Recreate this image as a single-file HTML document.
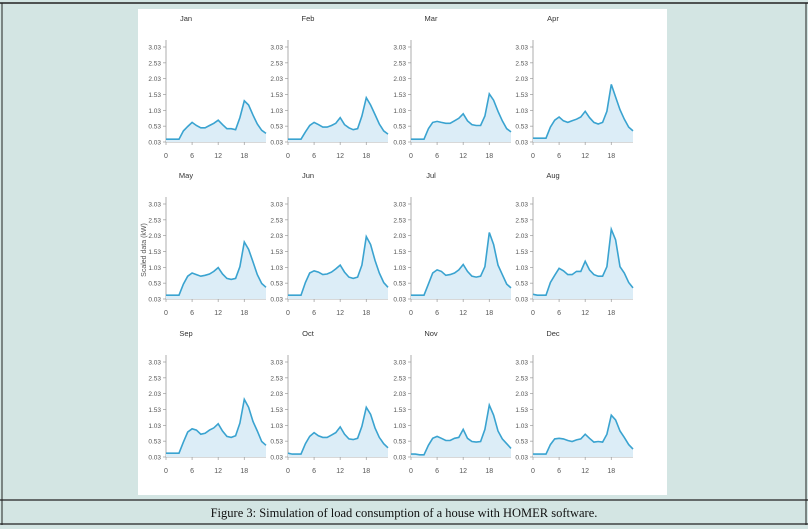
<!DOCTYPE html>
<html><head><meta charset="utf-8"><style>
body{margin:0;width:808px;height:529px;background:#d3e5e3;position:relative;overflow:hidden;font-family:"Liberation Sans",sans-serif}
svg{position:absolute;left:0;top:0}
</style></head><body>
<svg width="808" height="529" viewBox="0 0 808 529" id="s">
<line x1="0" y1="3" x2="808" y2="3" stroke="#222" stroke-width="1.5"/>
<line x1="2" y1="3" x2="2" y2="525" stroke="#222" stroke-width="1"/>
<line x1="806" y1="3" x2="806" y2="525" stroke="#222" stroke-width="1"/>
<rect x="138" y="9" width="529" height="486" fill="#fff"/>
<line x1="0" y1="500" x2="808" y2="500" stroke="#222" stroke-width="1.2"/>
<line x1="0" y1="524" x2="808" y2="524" stroke="#222" stroke-width="1.2"/>
<text x="404" y="517" text-anchor="middle" font-family="Liberation Serif,serif" font-size="12.5" fill="#111">Figure 3: Simulation of load consumption of a house with HOMER software.</text>
<text transform="translate(146,250) rotate(-90)" text-anchor="middle" font-size="7" fill="#555">Scaled data (kW)</text>
<g id="g"></g>
</svg>
<script>
var names=["Jan","Feb","Mar","Apr","May","Jun","Jul","Aug","Sep","Oct","Nov","Dec"];
var D=[
[.12,.12,.12,.12,.38,.52,.65,.55,.48,.48,.55,.62,.72,.58,.45,.45,.42,.8,1.33,1.2,.88,.6,.4,.3],
[.12,.12,.12,.12,.35,.55,.65,.58,.5,.5,.55,.62,.8,.58,.48,.42,.45,.85,1.43,1.2,.9,.6,.38,.28],
[.12,.12,.12,.12,.45,.65,.68,.65,.62,.62,.7,.78,.92,.7,.58,.55,.55,.85,1.55,1.35,1.0,.7,.45,.35],
[.15,.15,.15,.15,.5,.72,.82,.7,.65,.7,.75,.82,1.0,.8,.65,.6,.65,1.0,1.85,1.45,1.05,.75,.5,.38],
[.15,.15,.15,.15,.5,.75,.85,.8,.75,.78,.82,.9,1.02,.82,.68,.65,.68,1.05,1.83,1.6,1.2,.8,.52,.4],
[.15,.15,.15,.15,.55,.85,.92,.88,.8,.82,.88,.98,1.1,.88,.72,.68,.72,1.1,2.0,1.75,1.25,.85,.55,.4],
[.15,.15,.15,.15,.5,.85,.95,.9,.78,.8,.85,.95,1.12,.9,.75,.72,.75,1.05,2.13,1.75,1.1,.8,.5,.38],
[.18,.15,.15,.15,.55,.78,1.0,.92,.8,.8,.9,.9,1.22,.95,.8,.75,.75,1.05,2.23,1.9,1.05,.85,.55,.38],
[.15,.15,.15,.15,.5,.82,.92,.88,.75,.78,.88,.95,1.08,.85,.68,.65,.7,1.1,1.85,1.6,1.15,.85,.52,.4],
[.15,.12,.12,.12,.45,.68,.8,.7,.65,.65,.72,.8,.98,.75,.6,.58,.62,1.0,1.6,1.38,.95,.65,.45,.32],
[.12,.12,.1,.1,.4,.62,.68,.62,.55,.55,.62,.65,.9,.62,.52,.5,.52,.9,1.67,1.35,.85,.6,.45,.3],
[.12,.12,.12,.12,.42,.6,.62,.6,.55,.52,.57,.6,.75,.62,.5,.52,.5,.75,1.35,1.2,.85,.65,.42,.28]];
var ax=[166,288,411,533],base=[142,299,457];
var h="";
for(var i=0;i<12;i++){
 var c=i%4,r=Math.floor(i/4),X=ax[c],B=base[r],T=B-95;
 var sy=95/3.0,sx=100/23;
 h+='<text x="'+(X+20)+'" y="'+(B-121)+'" text-anchor="middle" font-size="7.5" fill="#333">'+names[i]+'</text>';
 h+='<line x1="'+X+'" y1="'+(B-102)+'" x2="'+X+'" y2="'+B+'" stroke="#999" stroke-width="0.8"/>';
 h+='<line x1="'+X+'" y1="'+B+'" x2="'+(X+100)+'" y2="'+B+'" stroke="#999" stroke-width="0.8"/>';
 var lab=["0.03","0.53","1.03","1.53","2.03","2.53","3.03"];
 for(var k=0;k<7;k++){var y=B-k*0.5*sy;
  h+='<line x1="'+(X-3)+'" y1="'+y+'" x2="'+X+'" y2="'+y+'" stroke="#999" stroke-width="0.7"/>';
  h+='<text x="'+(X-5)+'" y="'+(y+2.5)+'" text-anchor="end" font-size="6.5" fill="#555">'+lab[k]+'</text>';}
 for(var k=0;k<4;k++){var x=X+k*6*sx;
  h+='<line x1="'+x+'" y1="'+B+'" x2="'+x+'" y2="'+(B+3)+'" stroke="#999" stroke-width="0.7"/>';
  h+='<text x="'+x+'" y="'+(B+16)+'" text-anchor="middle" font-size="7" fill="#555">'+(k*6)+'</text>';}
 var p="";for(var j=0;j<24;j++){p+=(j?"L":"M")+(X+j*sx).toFixed(1)+","+(B-(D[i][j]-0.03)*sy).toFixed(1);}
 h+='<path d="'+p+'L'+(X+100)+','+B+'L'+X+','+B+'Z" fill="#dcedf7"/>';
 h+='<path d="'+p+'" fill="none" stroke="#3aa3d0" stroke-width="1.6"/>';
}
document.getElementById("g").innerHTML=h;
</script>
</body></html>
